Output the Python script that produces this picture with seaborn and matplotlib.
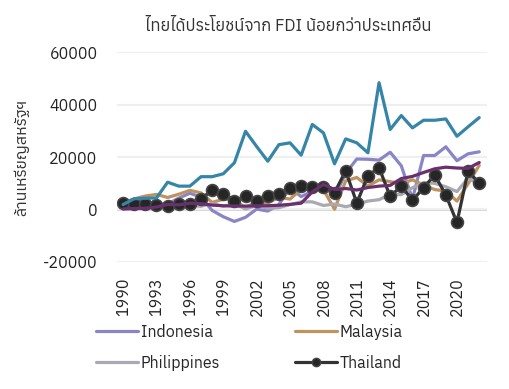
import matplotlib
matplotlib.use("Agg")
import matplotlib.pyplot as plt
from matplotlib.lines import Line2D
import seaborn as sns
import pandas as pd

years = list(range(1990, 2023))
indonesia = [1093, 1482, 1777, 2004, 2109, 4346, 6194, 4677, -356, -2745, -4550, -2977, 145, -597, 1896, 8336,
             4914, 6928, 9318, 4877, 13771, 19241, 19138, 18817, 21811, 16641, 3921, 20579, 20563, 23883, 18591,
             21212, 21968]
malaysia = [2611, 4044, 5138, 5741, 4581, 5816, 7296, 6324, 2714, 3895, 3788, 554, 3203, 2473, 4624, 3966,
            7691, 9071, 7573, 114, 10886, 12200, 8896, 11296, 10619, 9857, 11300, 9368, 7600, 7000, 3200,
            9800, 16800]
philippines = [530, 544, 228, 1238, 1591, 1478, 1517, 1222, 2287, 1247, 2240, 195, 1542, 491, 688, 1854,
               2921, 2916, 1544, 2065, 1070, 2007, 3215, 3737, 5740, 5639, 8280, 10256, 9949, 8671, 6822,
               11983, 9493]
thailand = [2444, 2014, 2113, 1804, 1366, 2068, 2271, 3882, 7491, 6091, 3350, 5061, 3335, 5232, 5860, 8216,
            8917, 8634, 8561, 6411, 14747, 2474, 12899, 15936, 4975, 8928, 3486, 8285, 13186, 5519, -4947,
            14641, 10035]
singapore = [1900, 4100, 4300, 4400, 10400, 8900, 8900, 12500, 12500, 13600, 17800, 29800, 24000, 18400,
             24700, 25400, 20700, 32400, 29200, 17400, 26900, 25400, 21600, 48300, 30500, 35800, 31100, 34000,
             34000, 34500, 27900, 31500, 35000]
vietnam = [180, 375, 474, 926, 1945, 1780, 2395, 2220, 1671, 1412, 1298, 1300, 1400, 1450, 1610, 1954,
           2400, 6700, 9579, 7600, 8000, 7430, 8368, 8900, 9200, 11800, 12600, 14100, 15500, 16120, 15800,
           15660, 17900]

series_names = ["Indonesia", "Malaysia", "Philippines", "Thailand", "Singapore", "Vietnam"]
series_vals = [indonesia, malaysia, philippines, thailand, singapore, vietnam]
legend_names = ["Indonesia", "Philippines", "Malaysia", "Thailand"]
colors = {"Indonesia": "#8a85c4", "Malaysia": "#c09260", "Philippines": "#aaa9b2",
          "Thailand": "#333333", "Singapore": "#3585a8", "Vietnam": "#6a2f6e"}

title = "ไทยได้ประโยชน์จาก FDI น้อยกว่าประเทศอื่น"
ylabel = "ล้านเหรียญสหรัฐฯ"
yticks = [-20000, 0, 20000, 40000, 60000]
xticks = list(range(1990, 2021, 3))

sns.set_theme(style="white")
plt.rcParams['font.family'] = ["Anuphan", "Loma", "DejaVu Sans"]

df = pd.DataFrame({"year": years * len(series_names),
                   "value": sum(series_vals, []),
                   "country": sum([[n] * len(years) for n in series_names], [])})

fig = plt.figure(figsize=(5.10, 3.89), dpi=100)
ax = fig.add_axes([0.2294, 0.3265, 0.7255, 0.5398])

for name in series_names:
    sub = df[df.country == name]
    if name == "Thailand":
        sns.lineplot(data=sub, x="year", y="value", ax=ax, color=colors[name], linewidth=2.3,
                     marker="o", markersize=8.5, markerfacecolor="#262626", markeredgecolor="#444444",
                     markeredgewidth=1.2, legend=False)
    else:
        sns.lineplot(data=sub, x="year", y="value", ax=ax, color=colors[name], linewidth=2.3, legend=False)

ax.set_xlim(1989.45, 2022.7)
ax.set_ylim(-20000, 60000)
ax.set_yticks(yticks)
ax.set_yticklabels([str(v) for v in yticks], fontsize=11.5, color="#222222")
ax.set_xticks(xticks)
ax.set_xticklabels([str(v) for v in xticks], rotation=90, fontsize=11.5, color="#222222")
ax.tick_params(axis="x", length=0, pad=11)
ax.tick_params(axis="y", length=0, pad=14)
ax.grid(axis="y", color="#efefef", linewidth=1.5)
ax.axhline(0, color="#d3d3d3", linewidth=2, zorder=0.5)
for s in ax.spines.values():
    s.set_visible(False)
ax.set_xlabel("")
ax.set_ylabel(ylabel, fontsize=11.5, color="#333333", labelpad=10)
ax.set_title(title, fontsize=12, color="#333333", pad=15, x=0.462)

hh = []
for n in legend_names:
    if n == "Thailand":
        hh.append(Line2D([], [], color=colors[n], lw=2.3, marker="o", markersize=6,
                         markerfacecolor="#262626", markeredgecolor="#444444"))
    else:
        hh.append(Line2D([], [], color=colors[n], lw=2.3))
fig.legend(hh, legend_names, ncol=2, loc="upper left", bbox_to_anchor=(0.16, 0.205), frameon=False,
           fontsize=11.5, handlelength=2.6, handletextpad=0.2, columnspacing=4.7, labelspacing=0.95)

fig.savefig("out.png", dpi=100)
